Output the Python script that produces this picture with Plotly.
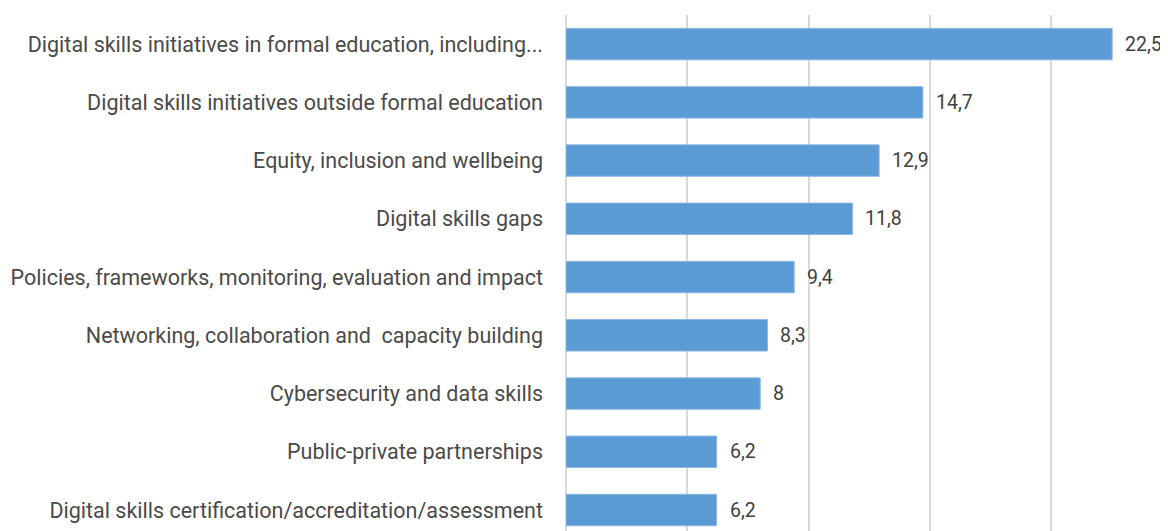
import plotly.graph_objects as go

# Share of topics (%)
categories = [
    "Digital skills initiatives in formal education, including...",
    "Digital skills initiatives outside formal education",
    "Equity, inclusion and wellbeing",
    "Digital skills gaps",
    "Policies, frameworks, monitoring, evaluation and impact",
    "Networking, collaboration and  capacity building",
    "Cybersecurity and data skills",
    "Public-private partnerships",
    "Digital skills certification/accreditation/assessment",
]
values = [22.5, 14.7, 12.9, 11.8, 9.4, 8.3, 8.0, 6.2, 6.2]
value_labels = ["22,5", "14,7", "12,9", "11,8", "9,4", "8,3", "8", "6,2", "6,2"]

FONT = "Roboto, Liberation Sans, sans-serif"

fig = go.Figure(go.Bar(
    x=values,
    y=categories,
    orientation="h",
    width=0.54,
    marker=dict(color="#5B9BD5", line=dict(color="#8DB8E3", width=1)),
    hoverinfo="x+y",
))

for cat, val, lab in zip(categories, values, value_labels):
    fig.add_annotation(
        x=val, y=cat, text=lab, showarrow=False,
        xanchor="left", xshift=11,
        font=dict(family=FONT, size=19.5, color="#404040"),
    )

# page body adds an 8px offset, so the figure is shrunk by 8 to stay in the window
fig.update_layout(
    width=1160,
    height=523,
    margin=dict(l=558, r=0, t=7, b=0),
    plot_bgcolor="white",
    paper_bgcolor="white",
    showlegend=False,
    font=dict(family=FONT, size=21.5, color="#4a4a4a"),
)
fig.update_xaxes(
    range=[0, 24.8],
    dtick=5,
    showticklabels=False,
    showgrid=True,
    gridcolor="#D9D9D9",
    gridwidth=1.5,
    zeroline=True,
    zerolinecolor="#D9D9D9",
    zerolinewidth=1.5,
)
fig.update_yaxes(
    categoryorder="array",
    categoryarray=categories,
    range=[8.36, -0.5],
    automargin=False,
    showgrid=False,
    ticks="",
    ticklabelstandoff=22,
    tickfont=dict(family=FONT, size=21.5, color="#4a4a4a"),
)

fig.write_html("out.html")
